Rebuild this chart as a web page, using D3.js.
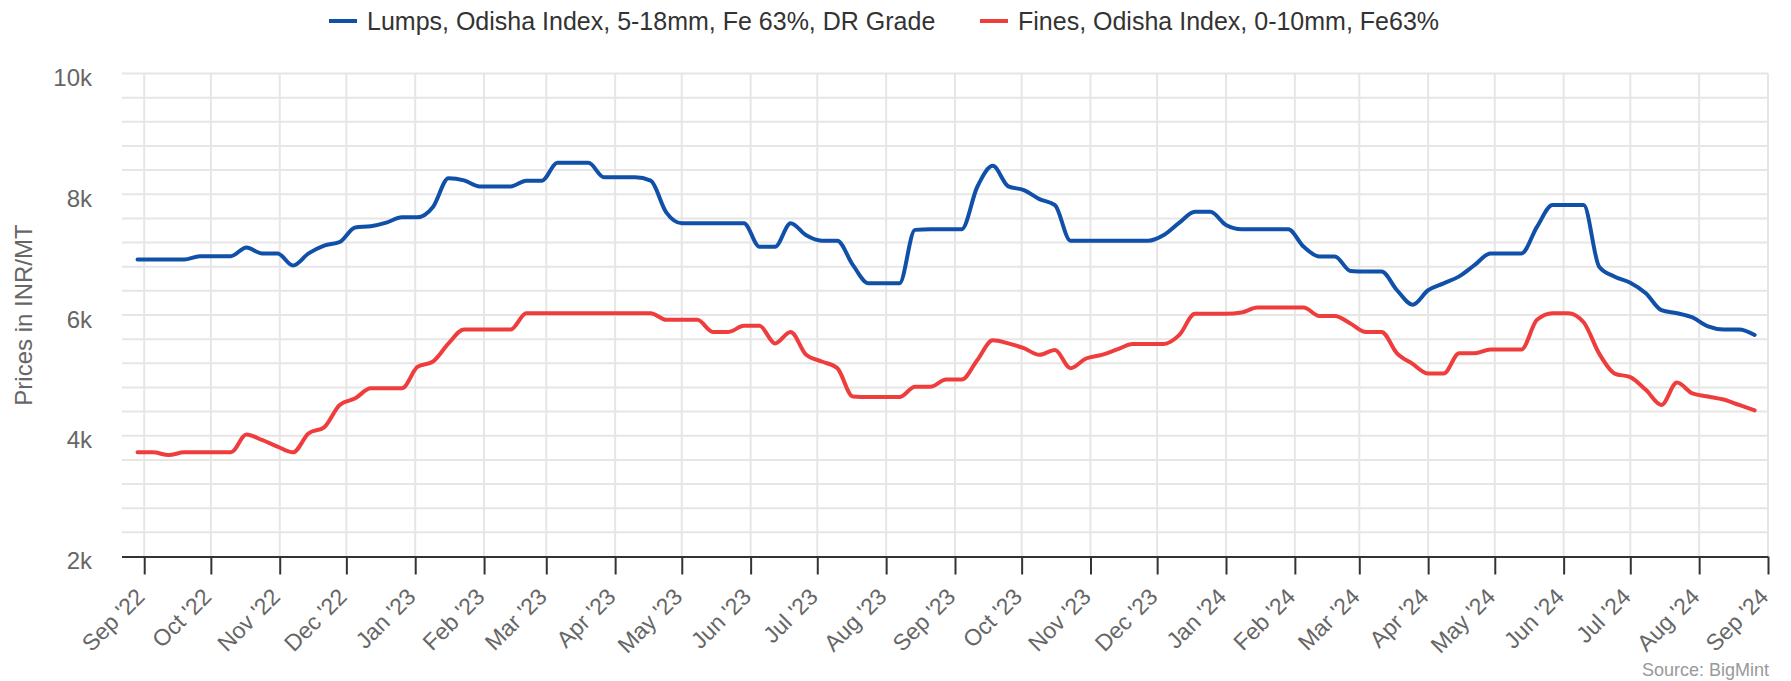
<!DOCTYPE html>
<html><head><meta charset="utf-8">
<script src="https://cdn.jsdelivr.net/npm/d3@7"></script>
<style>
body{margin:0;background:#fff}
svg{display:block;font-family:"Liberation Sans",Arial,Helvetica,sans-serif}
</style>
</head><body>
<svg id="chart" width="1791" height="681"></svg>
<script>
// ---- data ----
const dates = [
"2022-08-29","2022-09-05","2022-09-12","2022-09-19","2022-09-26","2022-10-03","2022-10-10","2022-10-17","2022-10-24","2022-10-31",
"2022-11-07","2022-11-14","2022-11-21","2022-11-28","2022-12-05","2022-12-12","2022-12-19","2022-12-26",
"2023-01-02","2023-01-09","2023-01-16","2023-01-23","2023-01-30","2023-02-06","2023-02-13","2023-02-20","2023-02-27",
"2023-03-06","2023-03-13","2023-03-20","2023-03-27","2023-04-03","2023-04-10","2023-04-17","2023-04-24",
"2023-05-01","2023-05-08","2023-05-15","2023-05-22","2023-05-29","2023-06-05","2023-06-12","2023-06-19","2023-06-26",
"2023-07-03","2023-07-10","2023-07-17","2023-07-24","2023-07-31","2023-08-07","2023-08-14","2023-08-21","2023-08-28",
"2023-09-04","2023-09-11","2023-09-18","2023-09-25","2023-10-02","2023-10-09","2023-10-16","2023-10-23","2023-10-30",
"2023-11-06","2023-11-13","2023-11-20","2023-11-27","2023-12-04","2023-12-11","2023-12-18","2023-12-25",
"2024-01-01","2024-01-08","2024-01-15","2024-01-22","2024-01-29","2024-02-05","2024-02-12","2024-02-19","2024-02-26",
"2024-03-04","2024-03-11","2024-03-18","2024-03-25","2024-04-01","2024-04-08","2024-04-15","2024-04-22","2024-04-29",
"2024-05-06","2024-05-13","2024-05-20","2024-05-27","2024-06-03","2024-06-10","2024-06-17","2024-06-24",
"2024-07-01","2024-07-08","2024-07-15","2024-07-22","2024-07-29","2024-08-05","2024-08-12","2024-08-19","2024-08-26"
];
const lumps = [
6920,6920,6920,6920,6975,6975,6975,7120,7020,7020,
6820,7020,7150,7210,7450,7470,7530,7620,
7620,7790,8265,8230,8130,8130,8130,8225,8225,
8520,8520,8520,8280,8280,8280,8225,7700,
7520,7520,7520,7520,7520,7130,7130,7520,7320,
7230,7230,6830,6525,6525,6525,7410,7420,7420,
7420,8120,8470,8130,8070,7920,7820,7230,7230,
7230,7230,7230,7230,7325,7530,7710,7710,
7490,7420,7420,7420,7420,7130,6970,6970,6730,
6720,6720,6410,6170,6410,6525,6640,6830,7020,
7020,7020,7460,7820,7820,7820,6800,6635,
6535,6360,6080,6030,5960,5810,5760,5760,5670
];
const fines = [
3725,3725,3680,3725,3725,3725,3725,4020,3930,3820,
3725,4040,4140,4510,4620,4785,4785,4785,
5140,5230,5530,5760,5760,5760,5760,6030,6030,
6030,6030,6030,6030,6030,6030,6030,5920,
5920,5920,5720,5720,5820,5820,5530,5720,5340,
5230,5120,4650,4640,4640,4640,4810,4810,4930,
4930,5250,5580,5530,5450,5340,5420,5120,5280,
5340,5430,5520,5520,5520,5670,6020,6020,
6020,6040,6125,6125,6125,6125,5985,5985,5860,
5720,5720,5365,5190,5030,5030,5365,5365,5430,
5430,5430,5920,6030,6030,5880,5360,5030,
4970,4760,4510,4880,4700,4650,4600,4510,4420
];
const seriesNames = ["Lumps, Odisha Index, 5-18mm, Fe 63%, DR Grade", "Fines, Odisha Index, 0-10mm, Fe63%"];
const seriesColors = ["#1150a8", "#ef3d3d"];
const yTickValues = [2000, 4000, 6000, 8000, 10000];
const yTickLabels = ["2k", "4k", "6k", "8k", "10k"];
const yTitle = "Prices in INR/MT";
const sourceText = "Source: BigMint";

// ---- layout ----
const svg = d3.select("#chart");
const pL = 122, pR = 1768, pT = 73.5, pB = 556.5;
const parse = d3.utcParse("%Y-%m-%d");
const x = d3.scaleUtc().domain([parse("2022-08-22"), parse("2024-09-01")]).range([pL, pR]);
const y = d3.scaleLinear().domain([2000, 10000]).range([pB, pT]);
const months = d3.utcMonth.range(parse("2022-09-01"), parse("2024-09-02"));

// horizontal grid (every 400)
const gridY = d3.range(2400, 10001, 400);
svg.append("g").selectAll("line").data(gridY).join("line")
  .attr("x1", pL).attr("x2", pR)
  .attr("y1", d => y(d)).attr("y2", d => y(d))
  .attr("stroke", "#e6e6e6").attr("stroke-width", 2);
// vertical grid
svg.append("g").selectAll("line").data(months).join("line")
  .attr("x1", d => x(d)).attr("x2", d => x(d))
  .attr("y1", pT).attr("y2", pB)
  .attr("stroke", "#e6e6e6").attr("stroke-width", 2);

// x axis
const xAxis = svg.append("g").attr("transform", `translate(0,${pB})`)
  .call(d3.axisBottom(x).tickValues(months).tickFormat(d3.utcFormat("%b '%y")).tickSize(18).tickSizeOuter(0));
xAxis.select(".domain").attr("stroke", "#333").attr("stroke-width", 2)
  .attr("d", `M${pL},0.5H${pR}`);
xAxis.selectAll(".tick line").attr("stroke", "#333").attr("stroke-width", 2);
xAxis.selectAll(".tick text")
  .attr("fill", "#666").attr("font-size", 23)
  .attr("text-anchor", "end")
  .attr("x", 2).attr("y", 0).attr("dy", null)
  .attr("transform", "translate(0,43) rotate(-45)");

// y axis labels
const yAxis = svg.append("g").attr("transform", `translate(${pL},0)`)
  .call(d3.axisLeft(y).tickValues(yTickValues).tickFormat((d, i) => yTickLabels[i]).tickSize(0).tickPadding(30));
yAxis.select(".domain").remove();
yAxis.selectAll(".tick text").attr("fill", "#666").attr("font-size", 24).attr("dy", "0.5em");

svg.append("text").attr("transform", `translate(32,${(pT + pB) / 2}) rotate(-90)`)
  .attr("text-anchor", "middle").attr("fill", "#666").attr("font-size", 24).text(yTitle);

// lines
const line = d3.line().x((d, i) => x(parse(dates[i]))).y(d => y(d)).curve(d3.curveMonotoneX);
[lumps, fines].forEach((s, i) => {
  svg.append("path").datum(s).attr("d", line).attr("fill", "none")
    .attr("stroke", seriesColors[i]).attr("stroke-width", 4)
    .attr("stroke-linejoin", "round").attr("stroke-linecap", "round");
});

// legend
const legendPos = [329, 980];
seriesNames.forEach((n, i) => {
  const g = svg.append("g").attr("transform", `translate(${legendPos[i]},21)`);
  g.append("line").attr("x1", 0).attr("x2", 28).attr("stroke", seriesColors[i]).attr("stroke-width", 4);
  g.append("text").attr("x", 38).attr("dy", "0.36em").attr("fill", "#333").attr("font-size", 25).text(n);
});

// source
svg.append("text").attr("x", 1769).attr("y", 676).attr("text-anchor", "end")
  .attr("fill", "#999").attr("font-size", 18).text(sourceText);
</script>
</body></html>
